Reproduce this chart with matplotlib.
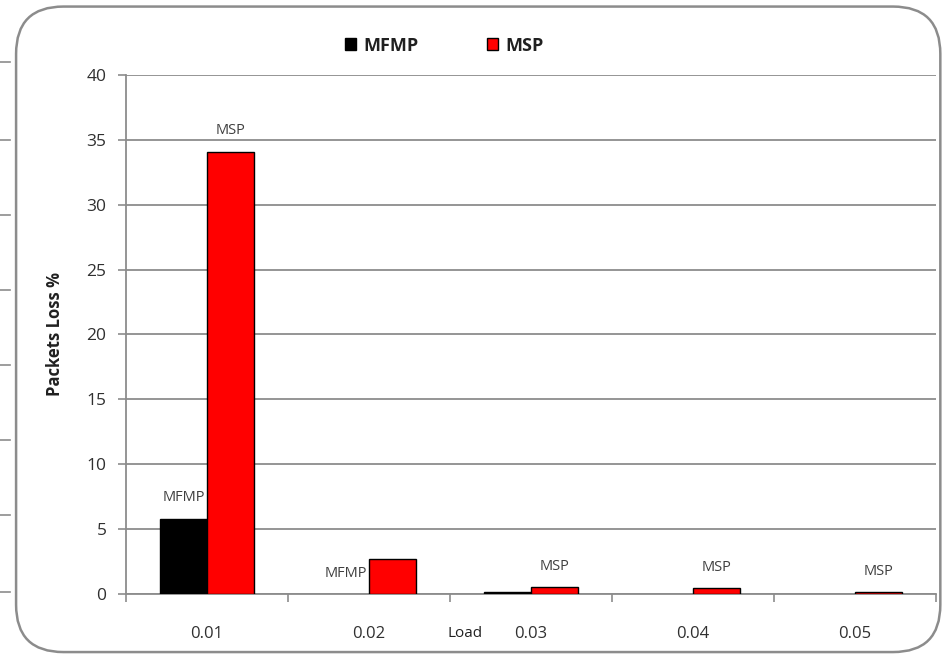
import numpy as np
import matplotlib
matplotlib.use("Agg")
import matplotlib.pyplot as plt
from matplotlib.patches import FancyBboxPatch
from matplotlib.lines import Line2D

plt.rcParams['font.family'] = ['Open Sans', 'DejaVu Sans']

# packet loss per load, two protocols
loads = ["0.01", "0.02", "0.03", "0.04", "0.05"]
mfmp = [5.8, 0.0, 0.15, 0.0, 0.0]
msp = [34.1, 2.7, 0.55, 0.45, 0.12]
mfmp_labels = ["MFMP", "MFMP", "", "", ""]
msp_labels = ["MSP", "", "MSP", "MSP", "MSP"]

fig = plt.figure(figsize=(9.46, 6.56), dpi=100)

# rounded chart frame
frame = FancyBboxPatch((0.017, 0.006), 0.977, 0.984,
                       boxstyle="round,pad=0,rounding_size=0.05",
                       transform=fig.transFigure, fill=False,
                       edgecolor="#8c8c8c", linewidth=1.8, mutation_aspect=946/656)
fig.add_artist(frame)

# stray ticks along the left edge
for yp in [62, 140, 215, 290, 365, 440, 515, 592]:
    fig.add_artist(Line2D([0, 0.011], [1 - yp / 656] * 2, transform=fig.transFigure,
                          color="#8c8c8c", linewidth=1.2))

ax = fig.add_axes([0.1332, 0.0945, 0.8562, 0.7912])

x = np.arange(len(loads))
w = 0.29
b1 = ax.bar(x - w / 2, mfmp, w, color="black", edgecolor="black",
            linewidth=[1 if v > 0 else 0 for v in mfmp], label="MFMP", zorder=3)
b2 = ax.bar(x + w / 2, msp, w, color="#ff0000", edgecolor="black",
            linewidth=[1 if v > 0 else 0 for v in msp], label="MSP", zorder=3)

for bars, labs in [(b1, mfmp_labels), (b2, msp_labels)]:
    for r, t in zip(bars, labs):
        if t:
            ax.annotate(t, (r.get_x() + r.get_width() / 2, r.get_height()),
                        xytext=(0, 15), textcoords="offset points", ha="center", va="center",
                        fontsize=10.5, color="#404040", zorder=4)

ax.set_xlim(-0.5, len(loads) - 0.5)
ax.set_ylim(0, 40)
ax.set_yticks(range(0, 41, 5))
ax.yaxis.grid(True, color="#8c8c8c", linewidth=1.3, zorder=0)
ax.set_axisbelow(True)

ax.set_xticks(x)
ax.set_xticklabels(loads, fontsize=12, color="#303030")
ax.set_xticks(np.arange(-0.5, len(loads), 1), minor=True)
ax.tick_params(axis="x", which="major", length=0, pad=23)
ax.tick_params(axis="x", which="minor", length=6, color="#8c8c8c", width=1.2)
ax.tick_params(axis="y", length=6, color="#8c8c8c", width=1.2, labelsize=12.5,
               labelcolor="#303030", pad=8)

for s in ["top", "right"]:
    ax.spines[s].set_visible(False)
for s in ["left", "bottom"]:
    ax.spines[s].set_color("#8c8c8c")
    ax.spines[s].set_linewidth(1.3)

ax.set_ylabel("Packets Loss %", fontsize=12, fontweight="bold", color="#202020", labelpad=16)
ax.text(0.418, -0.077, "Load", transform=ax.transAxes, fontsize=11, color="#202020",
        ha="center", va="center")

leg = ax.legend(loc="lower center", bbox_to_anchor=(0.393, 1.008), ncol=2, frameon=False,
                prop={"size": 13, "weight": "bold"}, handlelength=0.6, handleheight=0.6,
                columnspacing=3.8, handletextpad=0.4)
for t in leg.get_texts():
    t.set_color("#202020")

fig.savefig("out.png", dpi=100)
